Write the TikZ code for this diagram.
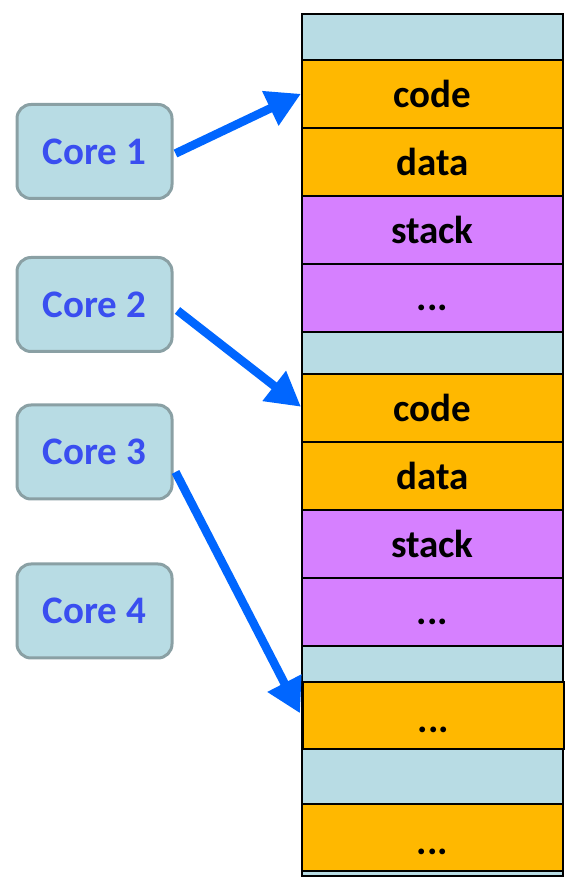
\documentclass[tikz,border=0pt]{standalone}
\usepackage{fontspec}
\setmainfont{Carlito}
\usetikzlibrary{arrows.meta,calc}
\definecolor{lblue}{RGB}{184,220,228}
\definecolor{orng}{RGB}{255,184,0}
\definecolor{purp}{RGB}{214,128,255}
\definecolor{coreborder}{RGB}{138,160,164}
\definecolor{coretext}{RGB}{58,78,240}
\definecolor{arrowblue}{RGB}{0,102,255}
\tikzset{
  x=1pt,y=1pt,
  row/.style={draw=black,line width=1.6pt,anchor=north west,minimum width=261pt,inner sep=0pt,font=\fontsize{39}{40}\selectfont\bfseries,text=black},
  corebox/.style={draw=coreborder,line width=3pt,fill=lblue,rounded corners=14pt,minimum width=155pt,minimum height=94pt,inner sep=0pt,font=\fontsize{39}{40}\selectfont\bfseries,text=coretext},
  bigarrow/.style={arrowblue,line width=8.5pt,-{Triangle[length=34pt,width=36pt]}}
}
\newcommand{\rowat}[5]{% name, y top(px), height, fill, text
  \node[row,fill=#4,minimum height=#3pt] (#1) at (301,{879-#2}) {#5};}
\newcommand{\lowdots}[1]{\smash{\raisebox{-#1pt}{...}}}
\begin{document}
\begin{tikzpicture}
\useasboundingbox (0,0) rectangle (576,879);
\rowat{top}{13}{46}{lblue}{}
\rowat{codeA}{59}{68}{orng}{code}
\rowat{dataA}{127}{68}{orng}{data}
\rowat{stackA}{195}{68}{purp}{stack}
\rowat{dotsA}{263}{68}{purp}{\lowdots{13}}
\rowat{gapA}{331}{42}{lblue}{}
\rowat{codeB}{373}{68}{orng}{code}
\rowat{dataB}{441}{68}{orng}{data}
\rowat{stackB}{509}{68}{purp}{stack}
\rowat{dotsB}{577}{68}{purp}{\lowdots{13}}
\rowat{gapB}{645}{103}{lblue}{}
\rowat{gapC}{748}{127}{lblue}{}
\node[row,fill=orng,minimum height=67pt] (dotsC) at (302,{879-681}) {\lowdots{17}};
\rowat{dotsD}{803}{67}{orng}{\lowdots{17}}
\node[corebox] (c1) at (94.5,{879-151.5}) {Core 1};
\node[corebox] (c2) at (94.5,{879-304.5}) {Core 2};
\node[corebox] (c3) at (94.5,{879-452}) {Core 3};
\node[corebox] (c4) at (94.5,{879-611}) {Core 4};
\draw[bigarrow] ($(c1.east)+(2,-2)$) -- (codeA.west);
\draw[bigarrow] ($(c2.east)+(4,-6)$) -- ($(codeB.west)+(0,1)$);
\draw[bigarrow] ($(c3.east)+(2,-20)$) -- ($(dotsC.west)+(-2,2)$);
\end{tikzpicture}
\end{document}
